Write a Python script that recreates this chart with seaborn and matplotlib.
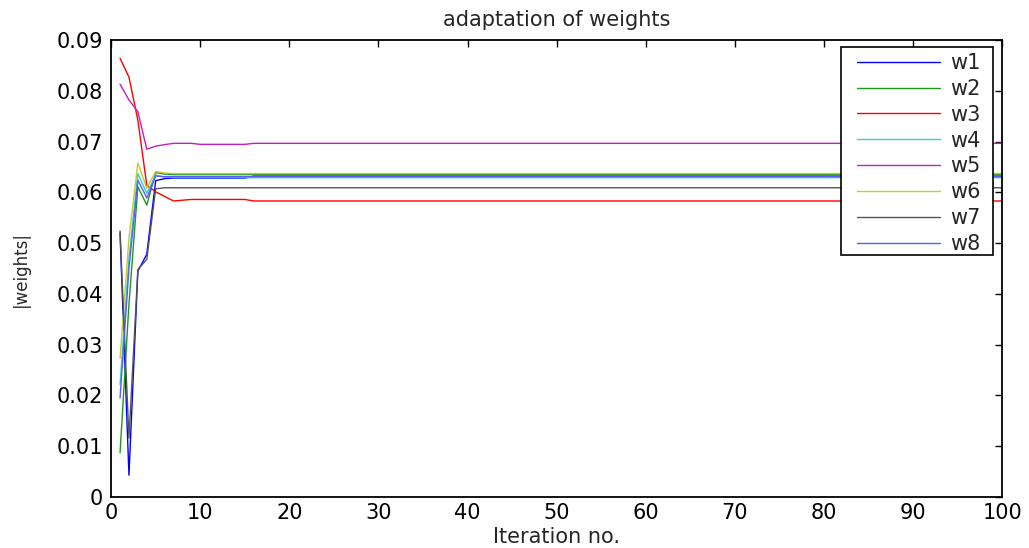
import matplotlib
matplotlib.use("Agg")
import matplotlib.pyplot as plt
from matplotlib.patches import Rectangle
import seaborn as sns
import pandas as pd

# iterations at which the curves were read (straight segments in between)
iterations = [1, 2, 3, 4, 5, 6, 7, 9, 10, 15, 16, 100]

w1 = [0.0520, 0.0043, 0.0445, 0.0478, 0.0623, 0.0627, 0.0628, 0.0628, 0.0628, 0.0628, 0.0632, 0.0632]
w2 = [0.0087, 0.0380, 0.0611, 0.0575, 0.0639, 0.0636, 0.0635, 0.0635, 0.0635, 0.0635, 0.0635, 0.0635]
w3 = [0.0864, 0.0827, 0.0742, 0.0614, 0.0601, 0.0592, 0.0583, 0.0586, 0.0586, 0.0586, 0.0583, 0.0583]
w4 = [0.0221, 0.0470, 0.0637, 0.0598, 0.0634, 0.0630, 0.0629, 0.0629, 0.0629, 0.0629, 0.0629, 0.0629]
w5 = [0.0813, 0.0782, 0.0759, 0.0685, 0.0691, 0.0694, 0.06965, 0.06965, 0.06945, 0.06945, 0.06965, 0.06965]
w6 = [0.0273, 0.0510, 0.0658, 0.0608, 0.0641, 0.0638, 0.0637, 0.0637, 0.0637, 0.0637, 0.0637, 0.0637]
w7 = [0.0524, 0.0116, 0.0448, 0.0468, 0.0607, 0.0609, 0.0609, 0.0609, 0.0609, 0.0609, 0.0609, 0.0609]
w8 = [0.0195, 0.0450, 0.0624, 0.0589, 0.0632, 0.0631, 0.0631, 0.0631, 0.0631, 0.0631, 0.0631, 0.0631]

series_names = ["w1", "w2", "w3", "w4", "w5", "w6", "w7", "w8"]
series_values = [w1, w2, w3, w4, w5, w6, w7, w8]
colors = ["#0000ff", "#1a9a1a", "#ff0000", "#30d0d0", "#c020c0", "#c8c830", "#555555", "#5a5aff"]

xticks = [0, 10, 20, 30, 40, 50, 60, 70, 80, 90, 100]
yticks = [0, 0.01, 0.02, 0.03, 0.04, 0.05, 0.06, 0.07, 0.08, 0.09]
ytick_labels = ["0", "0.01", "0.02", "0.03", "0.04", "0.05", "0.06", "0.07", "0.08", "0.09"]

rows = []
for name, vals in zip(series_names, series_values):
    for it, v in zip(iterations, vals):
        rows.append({"iteration": it, "weight": v, "series": name})
df = pd.DataFrame(rows)

sns.set_theme(style="white")
plt.rcParams["font.family"] = ["DejaVu Sans"]

fig = plt.figure(figsize=(10.29, 5.48), dpi=100)
ax = fig.add_axes([0.108, 0.093, 0.866, 0.834])

sns.lineplot(data=df, x="iteration", y="weight", hue="series",
             palette=dict(zip(series_names, colors)), linewidth=1.0,
             ax=ax, legend=True, estimator=None, sort=True)

ax.set_xlim(0, 100)
ax.set_ylim(0, 0.09)
ax.set_xticks(xticks)
ax.set_xticklabels([str(t) for t in xticks])
ax.set_yticks(yticks)
ax.set_yticklabels(ytick_labels)
ax.tick_params(direction="in", top=True, right=True, length=5, width=1,
               labelsize=15, colors="black")
ax.tick_params(axis="y", pad=6)
ax.tick_params(axis="x", pad=4)
for s in ax.spines.values():
    s.set_color("black")
    s.set_linewidth(1.3)

ax.set_title("adaptation of weights", fontsize=15, pad=10)
ax.set_xlabel("Iteration no.", fontsize=15, labelpad=3)
ax.set_ylabel("|weights|", fontsize=12, labelpad=19)

handles, labels = ax.get_legend_handles_labels()
leg = ax.legend(handles, labels, loc="upper left", bbox_to_anchor=(0.8368, 0.9715),
                fontsize=15, frameon=False, handlelength=4.0, handletextpad=0.5,
                labelspacing=0.28, borderpad=0.0, borderaxespad=0)
ax.add_patch(Rectangle((0.819, 0.5295), 0.1705, 0.4555, transform=ax.transAxes,
                       fill=True, facecolor="white", edgecolor="black",
                       linewidth=1.2, zorder=4.9))
leg.set_zorder(5)

fig.savefig("out.png", dpi=100)
